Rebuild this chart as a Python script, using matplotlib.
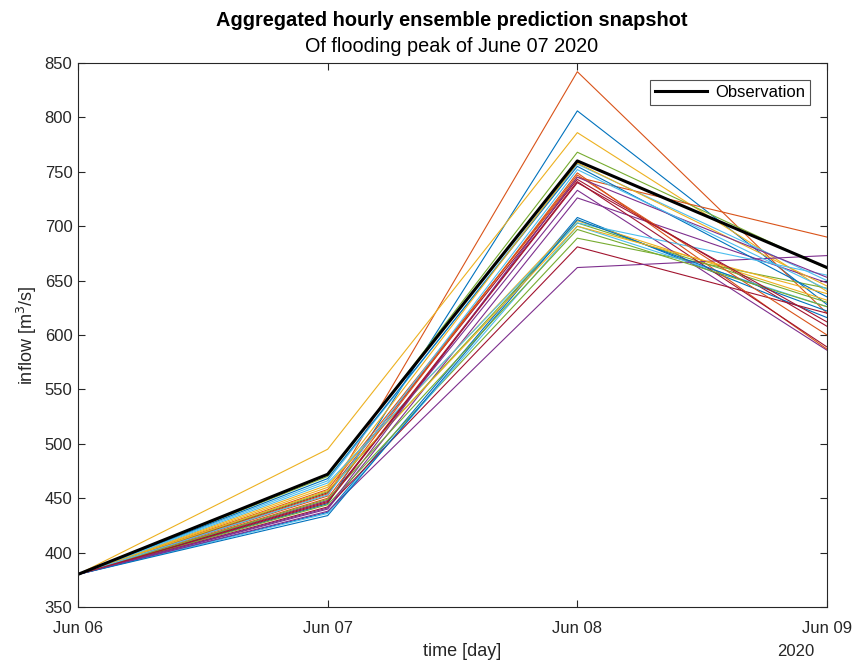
import matplotlib
matplotlib.use("Agg")
import matplotlib.pyplot as plt
import numpy as np

plt.rcParams['font.family'] = ['Liberation Sans', 'DejaVu Sans']

days = ["Jun 06", "Jun 07", "Jun 08", "Jun 09"]
year_label = "2020"

# ensemble members: inflow [m^3/s] at Jun 06, Jun 07, Jun 08, Jun 09
members = [
    [380, 445, 806, 628],
    [380, 452, 842, 620],
    [380, 495, 786, 640],
    [380, 440, 726, 648],
    [380, 470, 768, 661],
    [380, 466, 757, 650],
    [380, 455, 743, 608],
    [380, 437, 708, 616],
    [380, 458, 745, 690],
    [380, 462, 705, 632],
    [380, 448, 733, 586],
    [380, 444, 689, 643],
    [380, 436, 700, 626],
    [380, 442, 681, 620],
    [380, 468, 755, 635],
    [380, 450, 749, 587],
    [380, 460, 758, 645],
    [380, 438, 662, 673],
    [380, 456, 703, 630],
    [380, 464, 703, 655],
    [380, 447, 741, 589],
    [380, 434, 706, 622],
    [380, 454, 747, 600],
    [380, 457, 700, 638],
    [380, 441, 745, 653],
    [380, 449, 697, 626],
    [380, 453, 752, 642],
    [380, 446, 740, 612],
]
observation = [380, 472, 760, 662]

palette = ["#0072BD", "#D95319", "#EDB120", "#7E2F8E",
           "#77AC30", "#4DBEEE", "#A2142F"]

W, H = 855, 662
fig = plt.figure(figsize=(W / 100, H / 100), dpi=100)
ax = fig.add_axes([78 / W, 1 - 607 / H, (827 - 78) / W, (607 - 63) / H])

x = np.arange(len(days))
for i, m in enumerate(members):
    ax.plot(x, m, color=palette[i % len(palette)], lw=0.8)
ax.plot(x, observation, color="black", lw=2.2, label="Observation")

ax.set_xlim(0, 3)
ax.set_ylim(350, 850)
ax.set_xticks(x)
ax.set_xticklabels(days)
ax.set_yticks(np.arange(350, 851, 50))

axis_col = "#262626"
for s in ax.spines.values():
    s.set_color(axis_col)
    s.set_linewidth(0.8)
ax.tick_params(direction="in", top=True, right=True, length=5,
               width=0.8, colors=axis_col, labelsize=12)
ax.tick_params(axis="x", pad=10)
ax.tick_params(axis="y", pad=4)

ax.set_ylabel("inflow [m$^3$/s]", fontsize=13, color=axis_col, labelpad=4)
fig.text(462 / W, 1 - 652 / H, "time [day]", ha="center", va="center",
         fontsize=13, color=axis_col)
fig.text(796 / W, 1 - 651 / H, year_label, ha="center", va="center",
         fontsize=12, color=axis_col)

fig.text(452 / W, 1 - 20 / H, "Aggregated hourly ensemble prediction snapshot",
         ha="center", va="center", fontsize=14.4, fontweight="bold", color="black")
fig.text(452 / W, 1 - 46 / H, "Of flooding peak of June 07 2020",
         ha="center", va="center", fontsize=14.3, color="black")

leg = ax.legend(loc="upper right", fontsize=12, frameon=True, fancybox=False,
                edgecolor=axis_col, handlelength=3.1, borderaxespad=1.0,
                borderpad=0.3, handletextpad=0.5)
leg.get_frame().set_linewidth(0.8)

fig.savefig("out.png", dpi=100)
